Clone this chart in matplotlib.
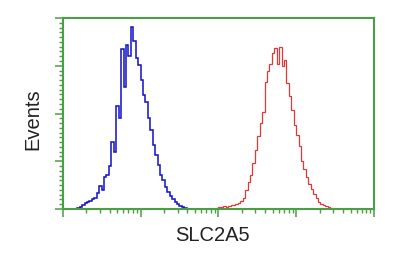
import numpy as np
import matplotlib
matplotlib.use("Agg")
import matplotlib.pyplot as plt
from matplotlib.ticker import LogLocator, MultipleLocator, NullFormatter

# 128 channels over 4 log decades (channel / 32 = decade)
channels_per_decade = 32

# unstained / control histogram (blue)
blue_start = 6
blue_counts = [1, 2, 4, 6, 7, 8, 10, 12, 17, 24, 20, 33, 36, 45,
               70, 60, 108, 95, 168, 128, 172, 160, 191, 176, 158, 151,
               135, 119, 112, 95, 83, 67, 57, 46, 36, 30, 23, 18, 14,
               10, 7, 5, 3, 2, 1]

# SLC2A5 stained histogram (red)
red_start = 63
red_counts = [1, 2, 2, 3, 2, 3, 4, 4, 5, 6, 8, 12, 20, 28, 36, 48,
              62, 76, 90, 102, 133, 144, 152, 163, 169, 152, 170, 150,
              156, 132, 118, 104, 88, 78, 66, 50, 42, 33, 26, 21, 16,
              11, 7, 5, 4, 3, 2, 1]

frame_color = "#4a9e44"

plt.rcParams['font.family'] = ['Liberation Sans', 'DejaVu Sans']

fig = plt.figure(figsize=(4.04, 2.57), dpi=100)
ax = fig.add_axes([62.7 / 404, 1 - 209 / 257, 311.3 / 404, 191 / 257])

def edges(start, n):
    ch = np.arange(start, start + n + 1)
    return 10 ** (ch / channels_per_decade)

ax.stairs(blue_counts, edges(blue_start, len(blue_counts)),
          color="#1010c8", lw=1.1, baseline=0)
ax.stairs(red_counts, edges(red_start, len(red_counts)),
          color="#e03838", lw=0.9, baseline=0)

ax.set_xscale("log")
ax.set_xlim(1, 1e4)
ax.set_ylim(0, 200)

ax.xaxis.set_major_locator(LogLocator(base=10, numticks=10))
ax.xaxis.set_minor_locator(LogLocator(base=10, subs=np.arange(2, 10), numticks=20))
ax.xaxis.set_major_formatter(NullFormatter())
ax.xaxis.set_minor_formatter(NullFormatter())
ax.yaxis.set_major_locator(MultipleLocator(50))
ax.yaxis.set_minor_locator(MultipleLocator(5))
ax.yaxis.set_major_formatter(NullFormatter())

ax.tick_params(which="major", direction="out", length=6, width=1.1, color=frame_color)
ax.tick_params(which="minor", direction="out", length=3, width=1.0, color=frame_color)
ax.tick_params(top=False, right=False)

for sp in ax.spines.values():
    sp.set_color(frame_color)
    sp.set_linewidth(1.5)

ax.set_xlabel("SLC2A5", fontsize=14.5, color="#222222")
ax.xaxis.set_label_coords(0.48, -0.09)
ax.set_ylabel("Events", fontsize=14.5, color="#222222")
ax.yaxis.set_label_coords(-0.066, 0.47)

fig.savefig("out.png", dpi=100)
